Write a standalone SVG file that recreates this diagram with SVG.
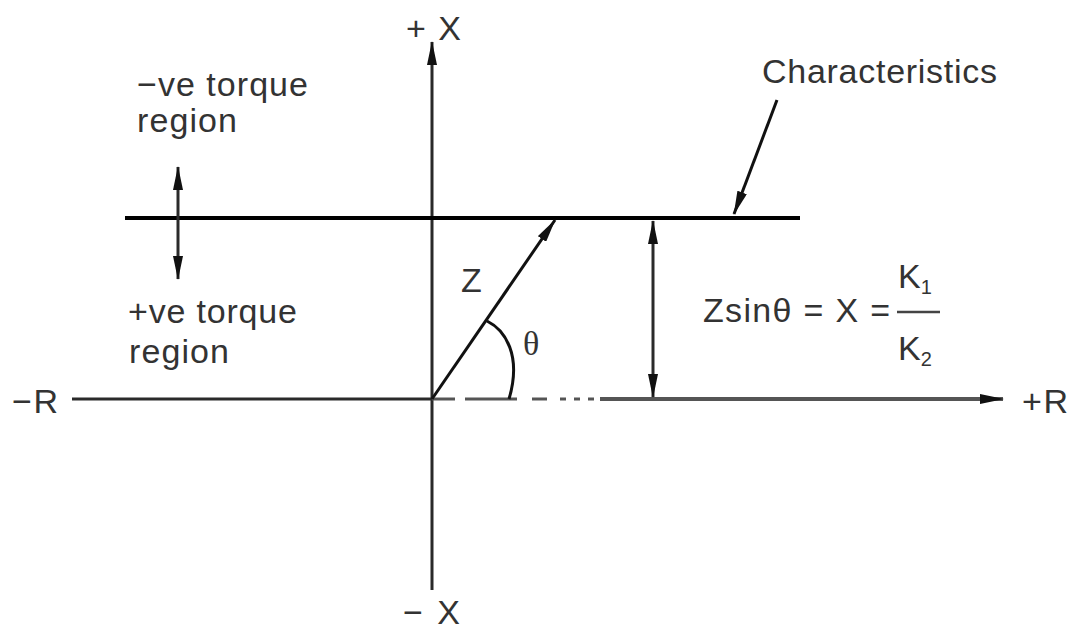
<svg xmlns="http://www.w3.org/2000/svg" width="1074" height="630" viewBox="0 0 1074 630">
<style>
.t{font-family:"Liberation Sans",Arial,sans-serif;font-size:34px;fill:#333}
.ax{stroke:#2a2a2a;stroke-width:3;fill:none}
.ln{stroke:#111;stroke-width:3;fill:none}
</style>
<defs>
<marker id="ah" viewBox="0 0 24 10" refX="23" refY="5" markerWidth="24" markerHeight="10" markerUnits="userSpaceOnUse" orient="auto-start-reverse">
<path d="M0,0 L24,5 L0,10 Z" fill="#111"/>
</marker>
</defs>
<rect width="1074" height="630" fill="#fff"/>
<g id="connectors">
<line id="x-axis-v" class="ax" x1="432" y1="590" x2="432" y2="42" marker-end="url(#ah)"/>
<line id="r-axis-left" class="ax" x1="72" y1="399" x2="432" y2="399"/>
<g stroke="#555" stroke-width="3">
<line x1="432" y1="399" x2="455" y2="399"/>
<line x1="465" y1="399" x2="517" y2="399"/>
<line x1="532" y1="399" x2="547" y2="399"/>
<line x1="560" y1="399" x2="566" y2="399"/>
<line x1="574" y1="399" x2="580" y2="399"/>
<line x1="588" y1="399" x2="594" y2="399"/>
</g>
<line id="r-axis-right" stroke="#555" stroke-width="4" x1="600" y1="399" x2="1003" y2="399" marker-end="url(#ah)"/>
<line id="characteristic" stroke="#000" stroke-width="4" x1="125" y1="218" x2="800" y2="218"/>
<line id="char-pointer" class="ln" x1="777" y1="100" x2="734" y2="214" marker-end="url(#ah)"/>
<line id="z-vector" class="ln" x1="432" y1="399" x2="555" y2="220" marker-end="url(#ah)"/>
<path id="theta-arc" class="ln" d="M487,321 C505,330 522,355 509,399"/>
<line id="x-height" class="ax" stroke="#444" x1="653" y1="221" x2="653" y2="397" marker-start="url(#ah)" marker-end="url(#ah)"/>
<line id="torque-arrow" class="ax" stroke="#333" x1="178" y1="167" x2="178" y2="279" marker-start="url(#ah)" marker-end="url(#ah)"/>
</g>
<g id="label-plus-x"><text class="t" x="406" y="40" textLength="55">+ X</text></g>
<g id="label-minus-x"><text class="t" x="403" y="624" textLength="57">− X</text></g>
<g id="label-minus-r"><text class="t" x="12" y="413" textLength="46">−R</text></g>
<g id="label-plus-r"><text class="t" x="1022" y="413" textLength="46">+R</text></g>
<g id="label-neg-torque"><text class="t" x="137" y="96" textLength="171">−ve torque</text><text class="t" x="137" y="132" textLength="100">region</text></g>
<g id="label-pos-torque"><text class="t" x="128" y="323" textLength="169">+ve torque</text><text class="t" x="129" y="363" textLength="100">region</text></g>
<g id="label-characteristics"><text class="t" x="762" y="83" textLength="235">Characteristics</text></g>
<g id="label-z"><text class="t" x="461" y="292">Z</text></g>
<g id="label-theta"><text class="t" style="font-family:'Liberation Serif',serif" x="523" y="355">θ</text></g>
<g id="formula">
<text class="t" x="703" y="322" textLength="187">Zsinθ = X =</text>
<text class="t" x="898" y="288">K<tspan font-size="20" dy="6">1</tspan></text>
<line x1="897" y1="312" x2="940" y2="312" stroke="#444" stroke-width="2.5"/>
<text class="t" x="898" y="360">K<tspan font-size="20" dy="6">2</tspan></text>
</g>
</svg>
